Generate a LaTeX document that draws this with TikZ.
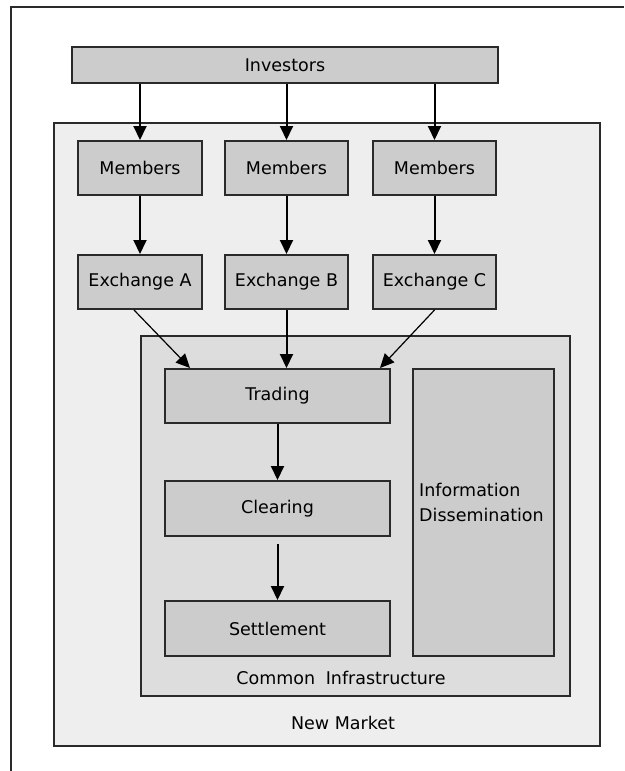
\documentclass[tikz,border=0pt]{standalone}
\usepackage{fontspec}
\setmainfont{DejaVu Sans}
\usetikzlibrary{arrows.meta}
\definecolor{boxfill}{HTML}{CCCCCC}
\definecolor{marketfill}{HTML}{EEEEEE}
\definecolor{infrafill}{HTML}{DDDDDD}
\definecolor{edge}{HTML}{2A2A2A}
\tikzset{
  box/.style={draw=edge, line width=2pt, fill=boxfill, inner sep=0pt, align=center,
    font=\fontsize{17.5}{25}\selectfont},
  arr/.style={draw=black, line width=2pt, -{Triangle[width=13pt,length=14pt]}},
  darr/.style={draw=black, line width=1.2pt, -{Triangle[width=13pt,length=14pt]}},
  lbl/.style={font=\fontsize{17.5}{25}\selectfont, inner sep=0pt},
}
\begin{document}
\begin{tikzpicture}[x=1pt,y=-1pt]
\useasboundingbox (0,0) rectangle (624,771);
\fill[white] (0,0) rectangle (624,771);
\draw[edge, line width=2pt] (11,771) -- (11,7) -- (624,7);
% containers
\node[box, fill=marketfill, minimum width=546pt, minimum height=623pt] (market) at (327,434.5) {};
\node[box, fill=infrafill, minimum width=429pt, minimum height=360pt] (infra) at (355.5,516) {};
% top
\node[box, minimum width=426pt, minimum height=36pt] (inv) at (285,65) {Investors};
\node[box, minimum width=124pt, minimum height=54pt] (memA) at (140,168) {Members};
\node[box, minimum width=123pt, minimum height=54pt] (memB) at (286.5,168) {Members};
\node[box, minimum width=123pt, minimum height=54pt] (memC) at (434.5,168) {Members};
\node[box, minimum width=124pt, minimum height=54pt] (exA) at (140,282) {Exchange A};
\node[box, minimum width=123pt, minimum height=54pt] (exB) at (286.5,282) {Exchange B};
\node[box, minimum width=123pt, minimum height=54pt] (exC) at (434.5,282) {Exchange C};
% infrastructure
\node[box, minimum width=225pt, minimum height=54pt] (trad) at (277.5,396) {Trading};
\node[box, minimum width=225pt, minimum height=55pt] (clear) at (277.5,508.5) {Clearing};
\node[box, minimum width=225pt, minimum height=55pt] (settle) at (277.5,628.5) {Settlement};
\node[box, minimum width=141pt, minimum height=287pt] (info) at (483.5,512.5) {};
\node[lbl, align=left, anchor=west] (infotxt) at (419,502) {Information\\Dissemination};
\node[lbl] (infralbl) at (341,678) {Common\hspace{0.6em}Infrastructure};
\node[lbl] (marketlbl) at (343,723) {New Market};
% connectors
\draw[arr] (inv.south -| memA) -- (memA.north);
\draw[arr] (inv.south -| memB) -- (memB.north);
\draw[arr] (inv.south -| memC) -- (memC.north);
\draw[arr] (memA) -- (exA);
\draw[arr] (memB) -- (exB);
\draw[arr] (memC) -- (exC);
\draw[darr] ([xshift=-6pt]exA.south) -- (trad.north west -| {190,0});
\draw[arr] (exB.south) -- (exB.south |- trad.north);
\draw[darr] (exC.south) -- (trad.north west -| {380,0});
\draw[arr] (trad) -- (clear);
\draw[arr, shorten <=7pt] (clear) -- (settle);
\end{tikzpicture}
\end{document}
